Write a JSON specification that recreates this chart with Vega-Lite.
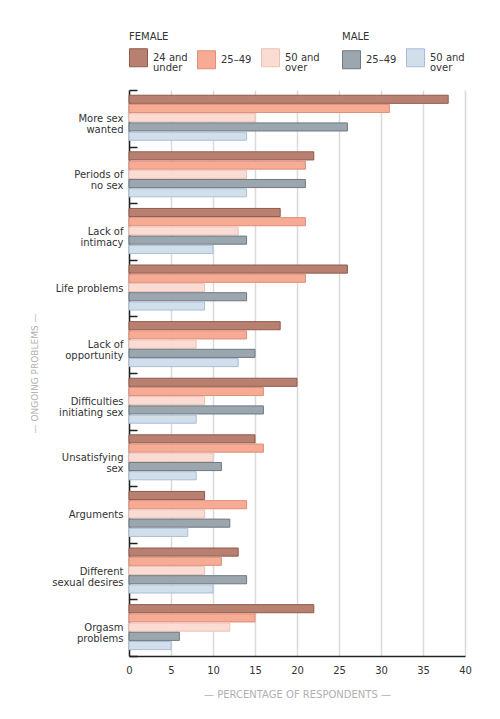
{
  "$schema": "https://vega.github.io/schema/vega-lite/v6.json",
  "width": 336,
  "height": 566,
  "autosize": {"type": "none"},
  "padding": {"left": 129, "top": 90, "right": 35, "bottom": 63},
  "background": "white",
  "config": {
    "font": "DejaVu Sans",
    "view": {"stroke": null},
    "style": {"guide-label": {"lineHeight": 10}}
  },
  "data": {
    "values": [
      {"problem": "More sex wanted", "sex": "Female", "age": "24 and under", "series": "Female 24 and under", "pct": 38},
      {"problem": "More sex wanted", "sex": "Female", "age": "25–49", "series": "Female 25–49", "pct": 31},
      {"problem": "More sex wanted", "sex": "Female", "age": "50 and over", "series": "Female 50 and over", "pct": 15},
      {"problem": "More sex wanted", "sex": "Male", "age": "25–49", "series": "Male 25–49", "pct": 26},
      {"problem": "More sex wanted", "sex": "Male", "age": "50 and over", "series": "Male 50 and over", "pct": 14},

      {"problem": "Periods of no sex", "sex": "Female", "age": "24 and under", "series": "Female 24 and under", "pct": 22},
      {"problem": "Periods of no sex", "sex": "Female", "age": "25–49", "series": "Female 25–49", "pct": 21},
      {"problem": "Periods of no sex", "sex": "Female", "age": "50 and over", "series": "Female 50 and over", "pct": 14},
      {"problem": "Periods of no sex", "sex": "Male", "age": "25–49", "series": "Male 25–49", "pct": 21},
      {"problem": "Periods of no sex", "sex": "Male", "age": "50 and over", "series": "Male 50 and over", "pct": 14},

      {"problem": "Lack of intimacy", "sex": "Female", "age": "24 and under", "series": "Female 24 and under", "pct": 18},
      {"problem": "Lack of intimacy", "sex": "Female", "age": "25–49", "series": "Female 25–49", "pct": 21},
      {"problem": "Lack of intimacy", "sex": "Female", "age": "50 and over", "series": "Female 50 and over", "pct": 13},
      {"problem": "Lack of intimacy", "sex": "Male", "age": "25–49", "series": "Male 25–49", "pct": 14},
      {"problem": "Lack of intimacy", "sex": "Male", "age": "50 and over", "series": "Male 50 and over", "pct": 10},

      {"problem": "Life problems", "sex": "Female", "age": "24 and under", "series": "Female 24 and under", "pct": 26},
      {"problem": "Life problems", "sex": "Female", "age": "25–49", "series": "Female 25–49", "pct": 21},
      {"problem": "Life problems", "sex": "Female", "age": "50 and over", "series": "Female 50 and over", "pct": 9},
      {"problem": "Life problems", "sex": "Male", "age": "25–49", "series": "Male 25–49", "pct": 14},
      {"problem": "Life problems", "sex": "Male", "age": "50 and over", "series": "Male 50 and over", "pct": 9},

      {"problem": "Lack of opportunity", "sex": "Female", "age": "24 and under", "series": "Female 24 and under", "pct": 18},
      {"problem": "Lack of opportunity", "sex": "Female", "age": "25–49", "series": "Female 25–49", "pct": 14},
      {"problem": "Lack of opportunity", "sex": "Female", "age": "50 and over", "series": "Female 50 and over", "pct": 8},
      {"problem": "Lack of opportunity", "sex": "Male", "age": "25–49", "series": "Male 25–49", "pct": 15},
      {"problem": "Lack of opportunity", "sex": "Male", "age": "50 and over", "series": "Male 50 and over", "pct": 13},

      {"problem": "Difficulties initiating sex", "sex": "Female", "age": "24 and under", "series": "Female 24 and under", "pct": 20},
      {"problem": "Difficulties initiating sex", "sex": "Female", "age": "25–49", "series": "Female 25–49", "pct": 16},
      {"problem": "Difficulties initiating sex", "sex": "Female", "age": "50 and over", "series": "Female 50 and over", "pct": 9},
      {"problem": "Difficulties initiating sex", "sex": "Male", "age": "25–49", "series": "Male 25–49", "pct": 16},
      {"problem": "Difficulties initiating sex", "sex": "Male", "age": "50 and over", "series": "Male 50 and over", "pct": 8},

      {"problem": "Unsatisfying sex", "sex": "Female", "age": "24 and under", "series": "Female 24 and under", "pct": 15},
      {"problem": "Unsatisfying sex", "sex": "Female", "age": "25–49", "series": "Female 25–49", "pct": 16},
      {"problem": "Unsatisfying sex", "sex": "Female", "age": "50 and over", "series": "Female 50 and over", "pct": 10},
      {"problem": "Unsatisfying sex", "sex": "Male", "age": "25–49", "series": "Male 25–49", "pct": 11},
      {"problem": "Unsatisfying sex", "sex": "Male", "age": "50 and over", "series": "Male 50 and over", "pct": 8},

      {"problem": "Arguments", "sex": "Female", "age": "24 and under", "series": "Female 24 and under", "pct": 9},
      {"problem": "Arguments", "sex": "Female", "age": "25–49", "series": "Female 25–49", "pct": 14},
      {"problem": "Arguments", "sex": "Female", "age": "50 and over", "series": "Female 50 and over", "pct": 9},
      {"problem": "Arguments", "sex": "Male", "age": "25–49", "series": "Male 25–49", "pct": 12},
      {"problem": "Arguments", "sex": "Male", "age": "50 and over", "series": "Male 50 and over", "pct": 7},

      {"problem": "Different sexual desires", "sex": "Female", "age": "24 and under", "series": "Female 24 and under", "pct": 13},
      {"problem": "Different sexual desires", "sex": "Female", "age": "25–49", "series": "Female 25–49", "pct": 11},
      {"problem": "Different sexual desires", "sex": "Female", "age": "50 and over", "series": "Female 50 and over", "pct": 9},
      {"problem": "Different sexual desires", "sex": "Male", "age": "25–49", "series": "Male 25–49", "pct": 14},
      {"problem": "Different sexual desires", "sex": "Male", "age": "50 and over", "series": "Male 50 and over", "pct": 10},

      {"problem": "Orgasm problems", "sex": "Female", "age": "24 and under", "series": "Female 24 and under", "pct": 22},
      {"problem": "Orgasm problems", "sex": "Female", "age": "25–49", "series": "Female 25–49", "pct": 15},
      {"problem": "Orgasm problems", "sex": "Female", "age": "50 and over", "series": "Female 50 and over", "pct": 12},
      {"problem": "Orgasm problems", "sex": "Male", "age": "25–49", "series": "Male 25–49", "pct": 6},
      {"problem": "Orgasm problems", "sex": "Male", "age": "50 and over", "series": "Male 50 and over", "pct": 5}
    ]
  },
  "encoding": {
    "y": {
      "field": "problem",
      "type": "nominal",
      "sort": ["More sex wanted", "Periods of no sex", "Lack of intimacy", "Life problems", "Lack of opportunity", "Difficulties initiating sex", "Unsatisfying sex", "Arguments", "Different sexual desires", "Orgasm problems"],
      "scale": {"paddingInner": 0, "paddingOuter": 0},
      "axis": {
        "title": "— ONGOING PROBLEMS —",
        "titleFontSize": 9,
        "titleFontWeight": "normal",
        "titleColor": "#b0b0b0",
        "titlePadding": 12,
        "labelFontSize": 10,
        "labelColor": "#333333",
        "labelLineHeight": 11,
        "labelPadding": 14,
        "labelLimit": 200,
        "labelExpr": "datum.label == 'More sex wanted' ? ['More sex', 'wanted'] : datum.label == 'Periods of no sex' ? ['Periods of', 'no sex'] : datum.label == 'Lack of intimacy' ? ['Lack of', 'intimacy'] : datum.label == 'Lack of opportunity' ? ['Lack of', 'opportunity'] : datum.label == 'Difficulties initiating sex' ? ['Difficulties', 'initiating sex'] : datum.label == 'Unsatisfying sex' ? ['Unsatisfying', 'sex'] : datum.label == 'Different sexual desires' ? ['Different', 'sexual desires'] : datum.label == 'Orgasm problems' ? ['Orgasm', 'problems'] : datum.label",
        "tickSize": -8,
        "tickColor": "#222222",
        "tickWidth": 1.5,
        "tickBand": "extent",
        "domainColor": "#222222",
        "domainWidth": 1.5,
        "grid": false
      }
    },
    "yOffset": {
      "field": "series",
      "type": "nominal",
      "sort": ["Female 24 and under", "Female 25–49", "Female 50 and over", "Male 25–49", "Male 50 and over"],
      "scale": {"paddingInner": 0.12, "paddingOuter": 0.63, "align": 0.45}
    },
    "x": {
      "field": "pct",
      "type": "quantitative",
      "scale": {"domain": [0, 40]},
      "axis": {
        "values": [0, 5, 10, 15, 20, 25, 30, 35, 40],
        "ticks": false,
        "grid": true,
        "gridColor": "#dadada",
        "gridWidth": 1.5,
        "domainColor": "#222222",
        "domainWidth": 1.5,
        "labelFontSize": 10,
        "labelColor": "#333333",
        "labelPadding": 9,
        "labelFlush": false,
        "title": "— PERCENTAGE OF RESPONDENTS —",
        "titleFontSize": 10,
        "titleFontWeight": "normal",
        "titleColor": "#b0b0b0",
        "titlePadding": 14
      }
    }
  },
  "layer": [
    {
      "transform": [{"filter": "datum.sex === 'Female'"}],
      "mark": {"type": "bar", "strokeWidth": 1, "fillOpacity": 1},
      "encoding": {
        "fill": {
          "field": "age",
          "type": "nominal",
          "scale": {"domain": ["24 and under", "25–49", "50 and over"], "range": ["#b88071", "#f7aa94", "#fbdcd4"]},
          "legend": {
            "title": "FEMALE", "orient": "none", "legendX": 0, "legendY": -58, "direction": "horizontal",
            "symbolType": "square", "symbolSize": 324, "symbolStrokeWidth": 1, "symbolOpacity": 1,
            "labelOffset": 5, "columnPadding": 7, "padding": 0,
            "titleFontSize": 10, "titleFontWeight": "normal", "titleColor": "#333333", "titlePadding": 6,
            "labelFontSize": 10, "labelColor": "#333333", "labelLimit": 100,
            "labelExpr": "datum.label == '24 and under' ? ['24 and', 'under'] : datum.label == '50 and over' ? ['50 and', 'over'] : datum.label"
          }
        },
        "stroke": {
          "field": "age",
          "type": "nominal",
          "scale": {"domain": ["24 and under", "25–49", "50 and over"], "range": ["#8f5a4b", "#dc8f78", "#efc1b5"]},
          "legend": {
            "title": "FEMALE", "orient": "none", "legendX": 0, "legendY": -58, "direction": "horizontal",
            "symbolType": "square", "symbolSize": 324, "symbolStrokeWidth": 1, "symbolOpacity": 1,
            "labelOffset": 5, "columnPadding": 7, "padding": 0,
            "titleFontSize": 10, "titleFontWeight": "normal", "titleColor": "#333333", "titlePadding": 6,
            "labelFontSize": 10, "labelColor": "#333333", "labelLimit": 100,
            "labelExpr": "datum.label == '24 and under' ? ['24 and', 'under'] : datum.label == '50 and over' ? ['50 and', 'over'] : datum.label"
          }
        }
      }
    },
    {
      "transform": [{"filter": "datum.sex === 'Male'"}],
      "mark": {"type": "bar", "strokeWidth": 1, "fillOpacity": 1},
      "encoding": {
        "fill": {
          "field": "age",
          "type": "nominal",
          "scale": {"domain": ["25–49", "50 and over"], "range": ["#9ba6ae", "#d2deea"]},
          "legend": {
            "title": "MALE", "orient": "none", "legendX": 213, "legendY": -58, "direction": "horizontal",
            "symbolType": "square", "symbolSize": 324, "symbolStrokeWidth": 1, "symbolOpacity": 1,
            "labelOffset": 5, "columnPadding": 7, "padding": 0,
            "titleFontSize": 10, "titleFontWeight": "normal", "titleColor": "#333333", "titlePadding": 6,
            "labelFontSize": 10, "labelColor": "#333333", "labelLimit": 100,
            "labelExpr": "datum.label == '50 and over' ? ['50 and', 'over'] : datum.label"
          }
        },
        "stroke": {
          "field": "age",
          "type": "nominal",
          "scale": {"domain": ["25–49", "50 and over"], "range": ["#6e7982", "#a6bedb"]},
          "legend": {
            "title": "MALE", "orient": "none", "legendX": 213, "legendY": -58, "direction": "horizontal",
            "symbolType": "square", "symbolSize": 324, "symbolStrokeWidth": 1, "symbolOpacity": 1,
            "labelOffset": 5, "columnPadding": 7, "padding": 0,
            "titleFontSize": 10, "titleFontWeight": "normal", "titleColor": "#333333", "titlePadding": 6,
            "labelFontSize": 10, "labelColor": "#333333", "labelLimit": 100,
            "labelExpr": "datum.label == '50 and over' ? ['50 and', 'over'] : datum.label"
          }
        }
      }
    }
  ],
  "resolve": {
    "scale": {"fill": "independent", "stroke": "independent"},
    "legend": {"fill": "independent", "stroke": "independent"}
  }
}
